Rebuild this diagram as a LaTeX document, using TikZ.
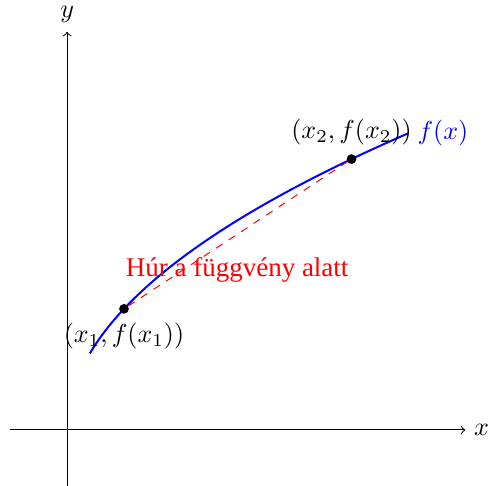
\documentclass[tikz,border=0pt]{standalone}
\usepackage{fix-cm}
\usepackage{fontspec}
\newfontfamily\chordfont{Liberation Serif}
\begin{document}
\begin{tikzpicture}[
  x=0.8cm,y=0.8cm,
  font=\fontsize{10.4}{12.5}\selectfont,
  axis/.style={->,line width=0.4pt},
  graph/.style={blue,thick},
  chord/.style={red,dashed},
  pt/.style={circle,fill=black,inner sep=0pt,minimum size=3.9pt},
]
  \useasboundingbox (-1.18,-0.97) rectangle (7.40,7.56);

  \draw[axis] (-1,0) -- (7,0) node[right] (xl) {$x$};
  \draw[axis] (0,-1) -- (0,7) node[above] (yl) {$y$};
  \draw[graph,domain=0.4:6,samples=80] plot (\x,{2.13*sqrt(\x)}) node[right] (fl) {$f(x)$};

  \node[pt,label=below:{$(x_1,f(x_1))$}] (p1) at (1,2.13) {};
  \node[pt,label=above:{$(x_2,f(x_2))$}] (p2) at (5,{2.13*sqrt(5)}) {};
  \draw[chord] (p1) -- (p2);

  \node[text=red,font=\fontsize{10.8}{13}\chordfont] (hur) at (2.99,2.82) {Húr a függvény alatt};
\end{tikzpicture}
\end{document}
